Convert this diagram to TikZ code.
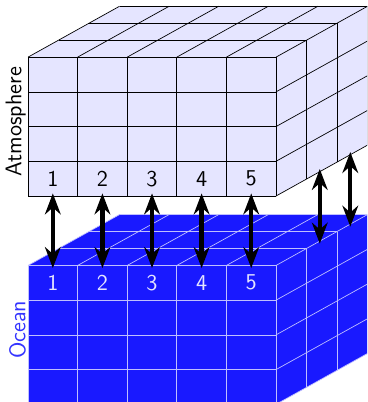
\documentclass[tikz,border=0pt]{standalone}
\usepackage{tikz}
\usetikzlibrary{arrows.meta}

\def\dx{0.615}
\def\dy{0.342}

% one block of cells: #1 = y shift, #2 = fill, #3 = line colour
\newcommand{\celllayer}[3]{%
  \begin{scope}[yshift=#1cm]
    \fill[#2] (0,0) -- (5,0) -- (5+3*\dx,3*\dy) -- (5+3*\dx,2.8+3*\dy)
      -- (3*\dx,2.8+3*\dy) -- (0,2.8) -- cycle;
    \foreach \j in {0,...,4} \draw[#3] (0,0.7*\j) -- ++(5,0);
    \foreach \i in {0,...,5} \draw[#3] (\i,0) -- ++(0,2.8);
    \foreach \i in {0,...,5} \draw[#3] (\i,2.8) -- ++(3*\dx,3*\dy);
    \foreach \k in {1,...,3} \draw[#3] (\k*\dx,2.8+\k*\dy) -- ++(5,0);
    \foreach \k in {1,...,3} \draw[#3] (5+\k*\dx,\k*\dy) -- ++(0,2.8);
    \foreach \j in {0,...,3} \draw[#3] (5,0.7*\j) -- ++(3*\dx,3*\dy);
  \end{scope}}

\begin{document}
\begin{tikzpicture}[
    >=Stealth,
    every node/.style={font=\sffamily\fontsize{13}{15}\selectfont},
    atmonum/.style={black},
    oceannum/.style={blue!10},
    exchange/.style={
        {Stealth[length=12pt,width=9pt]}-{Stealth[length=12pt,width=9pt]},
        line width=2.5pt,
        shorten <=-1.5pt,
        shorten >=-1.5pt
    }
]

    \useasboundingbox (-0.565,-4.153) rectangle (6.835,3.952);
    \clip (-0.565,-4.153) rectangle (6.835,3.952);

    % ocean below, atmosphere above
    \celllayer{-4.2}{blue!90}{blue!25, line width=0.4pt}
    \celllayer{0}{blue!10}{black, line width=0.4pt}

    \node[
        rotate=90,
        anchor=south
    ] (atmo) at (0.08,1.5) {Atmosphere};

    \node[
        rotate=90,
        anchor=south,
        blue!80
    ] (ocean) at (0.08,-2.7) {Ocean};

    \foreach \i in {1,...,5} {
        \node[atmonum] (a\i) at (\i-0.5,0.35) {\i};
        \node[oceannum] (o\i) at (\i-0.5,-1.75) {\i};
        \coordinate (ab\i) at (\i-0.5,0);
        \coordinate (ot\i) at (\i-0.5,-1.4);
        \draw[exchange] (ab\i) -- (ot\i);
    }

    % exchange behind the front row
    \foreach \k in {1,2} {
        \coordinate (rb\k) at (5+\k*\dx+0.5*\dx-0.04,\k*\dy+0.5*\dy-0.02);
        \coordinate (rt\k) at (5+\k*\dx+0.5*\dx-0.04,\k*\dy+0.5*\dy-1.42);
        \draw[exchange] (rb\k) -- (rt\k);
    }

\end{tikzpicture}
\end{document}
